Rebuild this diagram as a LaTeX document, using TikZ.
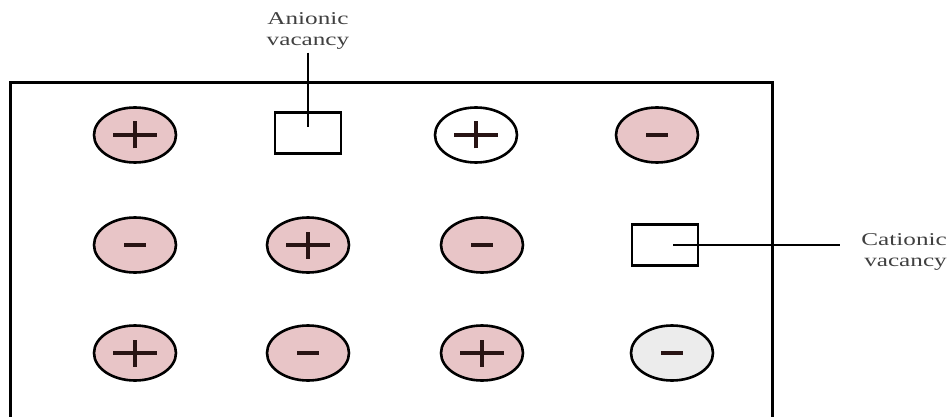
\documentclass[tikz,border=0pt]{standalone}
\usepackage{fontspec}
\setmainfont{Liberation Serif}
\usetikzlibrary{shapes.geometric}
\definecolor{ionpink}{RGB}{232,197,199}
\definecolor{iongray}{RGB}{236,236,236}
\definecolor{signc}{RGB}{40,20,20}
\newcommand{\ionplus}[1]{\draw[signline] ([xshift=-22pt]#1.center) -- ([xshift=22pt]#1.center);
  \draw[signline] ([yshift=-13.5pt]#1.center) -- ([yshift=13.5pt]#1.center);}
\newcommand{\ionminus}[1]{\draw[signline] ([xshift=-11pt]#1.center) -- ([xshift=11pt]#1.center);}
\begin{document}
\begin{tikzpicture}[x=1pt,y=-1pt,
  ion/.style={ellipse, draw=black, line width=2.6pt, minimum width=82pt, minimum height=55pt, inner sep=0pt},
  pink/.style={ion, fill=ionpink},
  grayion/.style={ion, fill=iongray},
  whiteion/.style={ion, fill=white},
  vac/.style={rectangle, draw=black, line width=2.4pt, minimum width=66pt, minimum height=41pt, inner sep=0pt},
  signline/.style={draw=signc, line width=3.4pt},
  lbl/.style={font=\fontsize{18}{21}\selectfont, text=black!75, align=center, inner sep=0pt},
  conn/.style={line width=2.4pt}]
\useasboundingbox (0,0) rectangle (948,417);
% frame
\draw[line width=3pt] (10,420) -- (10,83) -- (772,83) -- (772,420);
% row 1
\node[pink] (a1) at (135,135) {};
\node[vac] (av) at (308,133) {};
\node[whiteion] (a3) at (476,135) {};
\node[pink] (a4) at (657,135) {};
% row 2
\node[pink] (b1) at (135,245) {};
\node[pink] (b2) at (308,245) {};
\node[pink] (b3) at (482,245) {};
\node[vac] (cv) at (665,245) {};
% row 3
\node[pink] (c1) at (135,353) {};
\node[pink] (c2) at (308,353) {};
\node[pink] (c3) at (482,353) {};
\node[grayion] (c4) at (672,353) {};
% signs
\ionplus{a1} \ionplus{a3} \ionminus{a4}
\ionminus{b1} \ionplus{b2} \ionminus{b3}
\ionplus{c1} \ionminus{c2} \ionplus{c3} \ionminus{c4}
% labels
\node[lbl] (al) at (308,31) {\scalebox{1.4}[1]{Anionic}\\\scalebox{1.4}[1]{vacancy}};
\coordinate (ae) at (308,127);
\draw[conn] (al.south) ++(0,3) -- (ae);
\node[lbl, align=right, anchor=east] (cl) at (947,252) {\scalebox{1.4}[1]{Cationic}\\\scalebox{1.4}[1]{vacancy}};
\coordinate (ce) at (673,245);
\coordinate (cs) at (840,245);
\draw[conn] (ce) -- (cs);
\end{tikzpicture}
\end{document}
